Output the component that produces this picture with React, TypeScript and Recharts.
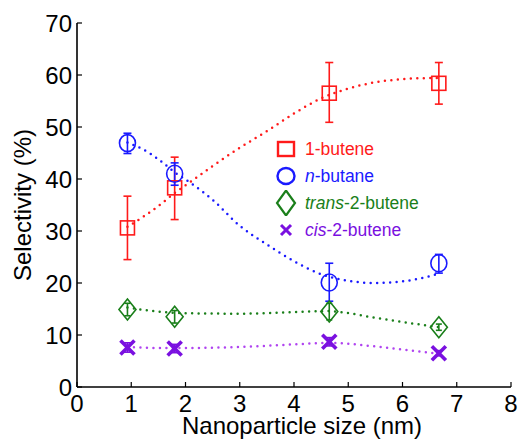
import React from 'react';
import {
  ComposedChart, XAxis, YAxis, Scatter, Line, ErrorBar, Legend, Label,
} from 'recharts';

// ---- data ----
const sizes = [0.93, 1.8, 4.65, 6.67];

const butene1 = [30.6, 38.3, 56.5, 58.4];
const butene1Err = [[6.1, 6.1], [6.1, 5.9], [5.6, 5.9], [4.0, 4.0]];

const nButane = [46.9, 41.0, 20.1, 23.8];
const nButaneErr = [[2.0, 1.9], [2.2, 2.1], [3.6, 3.7], [1.9, 1.7]];

const trans2 = [14.9, 13.5, 14.5, 11.5];
const trans2Err = [[1.2, 1.2], [1.2, 1.2], [1.6, 1.6], [0.6, 0.6]];

const cis2 = [7.6, 7.4, 8.7, 6.5];
const cis2Err = [[0.9, 0.9], [0.8, 0.8], [0.8, 0.8], [0.5, 0.5]];

// fitted (dotted) curves
const fitButene1X = [0.93, 1.2, 1.5, 1.8, 2.1, 2.5, 3.0, 3.5, 4.0, 4.5, 5.0, 5.5, 6.0, 6.5, 6.67];
const fitButene1Y = [30.8, 32.6, 34.8, 37.3, 39.5, 42.5, 46.0, 49.2, 52.6, 55.5, 57.4, 58.6, 59.2, 59.4, 59.4];

const fitNButaneX = [0.93, 1.2, 1.5, 1.8, 2.1, 2.5, 3.0, 3.5, 4.0, 4.5, 5.0, 5.5, 6.0, 6.5, 6.67];
const fitNButaneY = [47.0, 45.8, 43.8, 41.3, 39.2, 36.0, 31.0, 27.4, 24.2, 21.7, 20.4, 20.0, 20.3, 21.3, 21.8];

const fitTransX = [0.93, 1.5, 2.0, 3.0, 4.0, 4.65, 5.0, 5.5, 6.0, 6.67];
const fitTransY = [15.3, 14.5, 14.2, 14.1, 14.4, 14.6, 14.2, 13.3, 12.5, 11.5];

const fitCisX = [0.93, 1.5, 2.0, 3.0, 4.0, 4.65, 5.0, 5.5, 6.0, 6.67];
const fitCisY = [7.7, 7.5, 7.5, 7.7, 8.2, 8.5, 8.3, 7.8, 7.2, 6.4];

const xTicks = [0, 1, 2, 3, 4, 5, 6, 7, 8];
const yTicks = [0, 10, 20, 30, 40, 50, 60, 70];

const RED = '#ff1a1a';
const BLUE = '#1a1aff';
const GREEN = '#1a7f1a';
const PURPLE = '#7a10e0';
const PURPLE_LINE = '#b044f0';
const FONT = '"Liberation Sans", Arial, sans-serif';

const pts = (xs: number[], ys: number[], errs?: number[][]) =>
  xs.map((x, i) => ({ x, y: ys[i], err: errs ? errs[i] : undefined }));

const SquareShape = (p: any) => (
  <rect x={p.cx - 7} y={p.cy - 7} width={14} height={14} fill="none" stroke={RED} strokeWidth={1.6} />
);
const CircleShape = (p: any) => (
  <ellipse cx={p.cx} cy={p.cy} rx={8} ry={8.5} fill="none" stroke={BLUE} strokeWidth={1.6} />
);
const DiamondShape = (p: any) => (
  <polygon
    points={`${p.cx},${p.cy - 10.5} ${p.cx + 8.5},${p.cy} ${p.cx},${p.cy + 10.5} ${p.cx - 8.5},${p.cy}`}
    fill="none" stroke={GREEN} strokeWidth={1.6}
  />
);
const CrossShape = (p: any) => (
  <g stroke={PURPLE} strokeWidth={3.6} strokeLinecap="butt">
    <line x1={p.cx - 7} y1={p.cy - 7} x2={p.cx + 7} y2={p.cy + 7} />
    <line x1={p.cx - 7} y1={p.cy + 7} x2={p.cx + 7} y2={p.cy - 7} />
  </g>
);

const legendItems = [
  { key: 'b1', color: RED, italic: '', rest: '1-butene', marker: 'square' },
  { key: 'nb', color: BLUE, italic: 'n', rest: '-butane', marker: 'circle' },
  { key: 'tr', color: GREEN, italic: 'trans', rest: '-2-butene', marker: 'diamond' },
  { key: 'ci', color: PURPLE, italic: 'cis', rest: '-2-butene', marker: 'cross' },
];

const LegendMarker = ({ type, color }: { type: string; color: string }) => (
  <svg width={22} height={26} style={{ display: 'block' }}>
    {type === 'square' && <rect x={3} y={6} width={16} height={14} fill="none" stroke={color} strokeWidth={2.4} />}
    {type === 'circle' && <ellipse cx={11} cy={13} rx={8.5} ry={8} fill="none" stroke={color} strokeWidth={2.4} />}
    {type === 'diamond' && <polygon points="11,0.5 20,13 11,25.5 2,13" fill="none" stroke={color} strokeWidth={2.2} />}
    {type === 'cross' && (
      <g stroke={color} strokeWidth={3}>
        <line x1={6} y1={8} x2={16} y2={18} />
        <line x1={6} y1={18} x2={16} y2={8} />
      </g>
    )}
  </svg>
);

const renderLegend = () => (
  <div style={{ fontFamily: FONT, fontSize: 17.5 }}>
    {legendItems.map((it) => (
      <div key={it.key} style={{ display: 'flex', alignItems: 'center', height: 26.8 }}>
        <LegendMarker type={it.marker} color={it.color} />
        <span style={{ color: it.color, marginLeft: 8, whiteSpace: 'nowrap', lineHeight: '22px' }}>
          {it.italic && <i>{it.italic}</i>}
          {it.rest}
        </span>
      </div>
    ))}
  </div>
);

const YLabel = (props: any) => {
  const vb = props.viewBox;
  const x = vb.x + 31;
  const y = vb.y + vb.height / 2;
  return (
    <text x={x} y={y} transform={`rotate(-90, ${x}, ${y})`} textAnchor="middle"
      fontFamily={FONT} fontSize={24} fill="#000">Selectivity (%)</text>
  );
};

const XLabel = (props: any) => {
  const vb = props.viewBox;
  return (
    <text x={vb.x + vb.width / 2 + 8} y={vb.y + 47} textAnchor="middle"
      fontFamily={FONT} fontSize={24} fill="#000">Nanoparticle size (nm)</text>
  );
};

const tickStyle = { fontFamily: FONT, fontSize: 24, fill: '#000' };
const emptyTick = () => <g />;

export default function App() {
  return (
    <div style={{ position: 'absolute', left: 0, top: 0, width: 519, height: 439, background: '#fff' }}>
      <ComposedChart width={519} height={439} margin={{ top: 23, right: 8, bottom: 0, left: 0 }}>
        <XAxis xAxisId="b" dataKey="x" type="number" domain={[0, 8]} ticks={xTicks}
          orientation="bottom" height={52} tickSize={-5} tickMargin={13}
          stroke="#000" strokeWidth={1.6} tick={tickStyle} tickLine={{ stroke: '#000', strokeWidth: 1.2 }}
          interval={0} allowDecimals={false}>
          <Label content={XLabel} />
        </XAxis>
        <XAxis xAxisId="t" dataKey="x" type="number" domain={[0, 8]} ticks={xTicks}
          orientation="top" height={0} tickSize={-5} tickMargin={0}
          stroke="#000" strokeWidth={1.6} tick={emptyTick} tickLine={{ stroke: '#000', strokeWidth: 1.2 }} interval={0} />
        <YAxis yAxisId="l" dataKey="y" type="number" domain={[0, 70]} ticks={yTicks}
          orientation="left" width={77} tickSize={-5} tickMargin={10}
          stroke="#000" strokeWidth={1.6} tick={tickStyle} tickLine={{ stroke: '#000', strokeWidth: 1.2 }} interval={0}>
          <Label content={YLabel} />
        </YAxis>
        <YAxis yAxisId="r" dataKey="y" type="number" domain={[0, 70]} ticks={yTicks}
          orientation="right" width={0} tickSize={-5} tickMargin={0}
          stroke="#000" strokeWidth={1.6} tick={emptyTick} tickLine={{ stroke: '#000', strokeWidth: 1.2 }} interval={0} />

        <Line xAxisId="b" yAxisId="l" data={pts(fitButene1X, fitButene1Y)} dataKey="y" type="monotone"
          stroke={RED} strokeWidth={2.5} strokeDasharray="0 6.5" strokeLinecap="round" dot={false}
          activeDot={false} isAnimationActive={false} legendType="none" />
        <Line xAxisId="b" yAxisId="l" data={pts(fitNButaneX, fitNButaneY)} dataKey="y" type="monotone"
          stroke={BLUE} strokeWidth={2.5} strokeDasharray="0 6.5" strokeLinecap="round" dot={false}
          activeDot={false} isAnimationActive={false} legendType="none" />
        <Line xAxisId="b" yAxisId="l" data={pts(fitTransX, fitTransY)} dataKey="y" type="monotone"
          stroke={GREEN} strokeWidth={2.5} strokeDasharray="0 6.5" strokeLinecap="round" dot={false}
          activeDot={false} isAnimationActive={false} legendType="none" />
        <Line xAxisId="b" yAxisId="l" data={pts(fitCisX, fitCisY)} dataKey="y" type="monotone"
          stroke={PURPLE_LINE} strokeWidth={2.5} strokeDasharray="0 6.5" strokeLinecap="round" dot={false}
          activeDot={false} isAnimationActive={false} legendType="none" />

        <Scatter xAxisId="b" yAxisId="l" data={pts(sizes, butene1, butene1Err)} dataKey="y"
          shape={SquareShape} isAnimationActive={false}>
          <ErrorBar dataKey="err" direction="y" width={4} stroke={RED} strokeWidth={1.6} />
        </Scatter>
        <Scatter xAxisId="b" yAxisId="l" data={pts(sizes, nButane, nButaneErr)} dataKey="y"
          shape={CircleShape} isAnimationActive={false}>
          <ErrorBar dataKey="err" direction="y" width={4} stroke={BLUE} strokeWidth={1.6} />
        </Scatter>
        <Scatter xAxisId="b" yAxisId="l" data={pts(sizes, trans2, trans2Err)} dataKey="y"
          shape={DiamondShape} isAnimationActive={false}>
          <ErrorBar dataKey="err" direction="y" width={3} stroke={GREEN} strokeWidth={1.6} />
        </Scatter>
        <Scatter xAxisId="b" yAxisId="l" data={pts(sizes, cis2, cis2Err)} dataKey="y"
          shape={CrossShape} isAnimationActive={false}>
          <ErrorBar dataKey="err" direction="y" width={4} stroke={PURPLE} strokeWidth={1.6} />
        </Scatter>

        <Legend layout="vertical" align="center" verticalAlign="middle" content={renderLegend}
          wrapperStyle={{ position: 'absolute', left: 275, top: 136, width: 230 }} />
      </ComposedChart>
    </div>
  );
}
